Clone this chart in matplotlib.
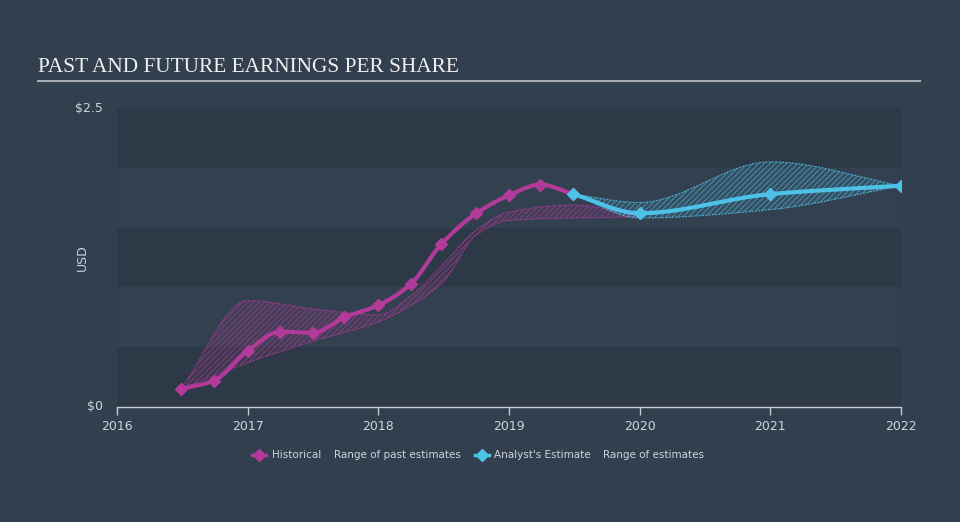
import numpy as np
import matplotlib.pyplot as plt
from matplotlib.lines import Line2D

# 数据
hist_x = [2016.49, 2016.74, 2017.0, 2017.25, 2017.5, 2017.74, 2018.0,
          2018.25, 2018.48, 2018.75, 2019.0, 2019.24, 2019.49]
hist_y = [0.15, 0.22, 0.47, 0.63, 0.62, 0.75, 0.85,
          1.03, 1.36, 1.62, 1.77, 1.86, 1.78]

est_x = [2019.49, 2020.0, 2021.0, 2022.0]
est_y = [1.78, 1.62, 1.78, 1.85]

past_rng_x = [2016.49, 2017.0, 2017.5, 2018.0, 2018.25, 2018.5, 2018.75, 2019.0, 2019.5, 2020.0]
past_rng_hi = [0.15, 0.89, 0.82, 0.77, 0.93, 1.20, 1.48, 1.63, 1.69, 1.59]
past_rng_lo = [0.15, 0.37, 0.55, 0.71, 0.85, 1.05, 1.44, 1.56, 1.58, 1.59]

est_rng_x = [2019.49, 2020.0, 2021.0, 2022.0]
est_rng_hi = [1.78, 1.71, 2.05, 1.85]
est_rng_lo = [1.78, 1.58, 1.65, 1.85]

years = [2016, 2017, 2018, 2019, 2020, 2021, 2022]

PINK = '#b23a98'
CYAN = '#4ec1e6'
BG = '#323f4e'
TXT = '#d0d4da'


def pchip(x, y, n=200):
    """单调三次插值, 仅用于画平滑曲线"""
    x = np.asarray(x, float)
    y = np.asarray(y, float)
    h = np.diff(x)
    d = np.diff(y) / h
    m = np.zeros_like(y)
    for k in range(1, len(x) - 1):
        if d[k - 1] * d[k] > 0:
            w1 = 2 * h[k] + h[k - 1]
            w2 = h[k] + 2 * h[k - 1]
            m[k] = (w1 + w2) / (w1 / d[k - 1] + w2 / d[k])
    m[0] = d[0]
    m[-1] = d[-1]
    xs = np.linspace(x[0], x[-1], n)
    idx = np.clip(np.searchsorted(x, xs) - 1, 0, len(x) - 2)
    t = (xs - x[idx]) / h[idx]
    h00 = 2 * t**3 - 3 * t**2 + 1
    h10 = t**3 - 2 * t**2 + t
    h01 = -2 * t**3 + 3 * t**2
    h11 = t**3 - t**2
    ys = h00 * y[idx] + h10 * h[idx] * m[idx] + h01 * y[idx + 1] + h11 * h[idx] * m[idx + 1]
    return xs, ys


plt.rcParams['hatch.linewidth'] = 0.5

fig = plt.figure(figsize=(9.6, 5.22), dpi=100, facecolor=BG)
ax = fig.add_axes([117 / 960, 115 / 522, 784 / 960, 299 / 522])
ax.set_facecolor('none')

# 背景条纹
for lo, hi, c in [(0, 0.5, '#2d3947'), (0.5, 1.0, '#334050'), (1.0, 1.5, '#2d3947'),
                  (1.5, 2.0, '#334050'), (2.0, 2.5, '#2d3947')]:
    ax.axhspan(lo, hi, color=c, lw=0, zorder=0)

# 范围区域
for rx, rhi, rlo, c in [(past_rng_x, past_rng_hi, past_rng_lo, PINK),
                        (est_rng_x, est_rng_hi, est_rng_lo, CYAN)]:
    xs, yh = pchip(rx, rhi)
    _, yl = pchip(rx, rlo)
    ax.fill_between(xs, yl, yh, facecolor=c, alpha=0.12, lw=0, zorder=1)
    ax.fill_between(xs, yl, yh, facecolor='none', edgecolor=c, hatch='//////',
                    lw=0, alpha=0.8, zorder=1)
    ax.plot(xs, yh, color=c, lw=0.8, ls=(0, (2, 1)), alpha=0.8, zorder=1)
    ax.plot(xs, yl, color=c, lw=0.8, ls=(0, (2, 1)), alpha=0.8, zorder=1)

# 折线
xs, ys = pchip(hist_x, hist_y)
ax.plot(xs, ys, color=PINK, lw=3, solid_capstyle='round', zorder=3)
ax.plot(hist_x, hist_y, 'D', color=PINK, ms=6.5, zorder=4)
xs, ys = pchip(est_x, est_y)
ax.plot(xs, ys, color=CYAN, lw=3, solid_capstyle='round', zorder=3)
ax.plot(est_x, est_y, 'D', color=CYAN, ms=6.5, zorder=4)

ax.set_xlim(2016, 2022)
ax.set_ylim(0, 2.5)
ax.set_xticks(years)
ax.set_xticklabels([str(y) for y in years])
ax.set_yticks([0, 2.5])
ax.set_yticklabels(['$0', '$2.5'])
for s in ['top', 'right', 'left']:
    ax.spines[s].set_visible(False)
ax.spines['bottom'].set_color('#c8ccd2')
ax.spines['bottom'].set_linewidth(1)
ax.tick_params(axis='x', colors='#c8ccd2', labelcolor=TXT, labelsize=9, length=6, width=1)
ax.tick_params(axis='y', length=0, labelcolor=TXT, labelsize=9, pad=10)
for lab in ax.get_yticklabels():
    lab.set_va('center')

fig.text(82 / 960, 1 - 258 / 522, 'USD', color=TXT, fontsize=9, rotation=90,
         ha='center', va='center')

# 标题
fig.text(38 / 960, 1 - 67 / 522, 'PAST AND FUTURE EARNINGS PER SHARE', color='#f0f0f0',
         fontsize=15.3, family='Liberation Serif', va='center', ha='left')
fig.add_artist(Line2D([38 / 960, 920 / 960], [1 - 81 / 522] * 2, color='#a9aeb5', lw=1.5))

# 图例
ly = 1 - 455 / 522
fig.add_artist(Line2D([252 / 960, 266 / 960], [ly, ly], color=PINK, lw=2.5))
fig.add_artist(Line2D([259 / 960], [ly], color=PINK, marker='D', ms=6, lw=0))
fig.add_artist(Line2D([475 / 960, 489 / 960], [ly, ly], color=CYAN, lw=2.5))
fig.add_artist(Line2D([482 / 960], [ly], color=CYAN, marker='D', ms=6, lw=0))
for x, t in [(272, 'Historical'), (334, 'Range of past estimates'),
             (494, "Analyst's Estimate"), (603, 'Range of estimates')]:
    fig.text(x / 960, ly, t, color=TXT, fontsize=7.5, va='center', ha='left')

fig.savefig('out.png', dpi=100, facecolor=BG)
